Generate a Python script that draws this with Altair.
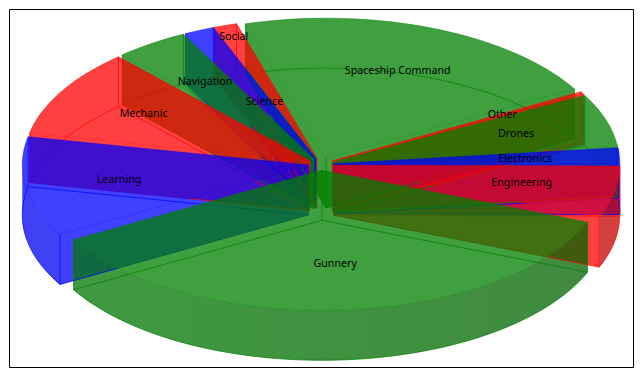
import math
import altair as alt
import pandas as pd

categories = ["Spaceship Command", "Other", "Drones", "Electronics", "Engineering", "Gunnery",
              "Learning", "Mechanic", "Navigation", "Science", "Social"]
shares = [21.3, 0.33, 6.1, 1.9, 5.95, 35.7, 11.5, 10.1, 4.14, 1.7, 1.3]
palette = ["green", "red", "green", "blue", "red", "green", "blue", "red", "green", "blue", "red"]

# layout
RGB = {"green": (0, 128, 0), "red": (255, 0, 0), "blue": (0, 0, 255)}
START = -16.3
EXPLODE = 0.045
DEPTH = 50 / 140
LABEL_R = {"Science": 0.44, "Social": 0.91, "Other": 0.68}
PX, PY = 286, 140
W, H = 624, 358
CX, CY = 312, 155
x_dom = [-CX / PX, (W - CX) / PX]
y_dom = [-(H - CY) / PY, CY / PY]

xs = alt.Scale(domain=x_dom, nice=False, zero=False)
ys = alt.Scale(domain=y_dom, nice=False, zero=False)
X = alt.X("x:Q", scale=xs, axis=None)
Y = alt.Y("y:Q", scale=ys, axis=None)


def hexc(rgb, k=1.0):
    return "#%02x%02x%02x" % tuple(round(c * k) for c in rgb)


pid = 0


def add(rows, pts, color):
    global pid
    for i, (x, y) in enumerate(pts):
        rows.append({"pid": pid, "i": i, "x": x, "y": y, "c": color})
    pid += 1


def solid(rows):
    return alt.Chart(pd.DataFrame(rows)).mark_line(
        filled=True, fillOpacity=0.75, strokeWidth=0, interpolate="linear"
    ).encode(x=X, y=Y, order="i:Q", detail="pid:N", fill=alt.Fill("c:N", scale=None))


def outline(rows, alpha):
    return alt.Chart(pd.DataFrame(rows)).mark_line(
        strokeWidth=1, strokeOpacity=alpha, interpolate="linear"
    ).encode(x=X, y=Y, order="i:Q", detail="pid:N", color=alt.Color("c:N", scale=None))


def shaded(pts, base):
    rows = [{"i": i, "x": x, "y": y} for i, (x, y) in enumerate(pts)]
    lo, hi = min(p[0] for p in pts), max(p[0] for p in pts)
    k = lambda v: 0.86 - 0.09 * v
    grad = alt.LinearGradient(
        gradient="linear", x1=0, x2=1, y1=0, y2=0,
        stops=[alt.GradientStop(color=hexc(base, k(lo)), offset=0),
               alt.GradientStop(color=hexc(base, k(hi)), offset=1)],
    )
    return alt.Chart(pd.DataFrame(rows)).mark_line(
        filled=True, fill=grad, fillOpacity=0.75, strokeWidth=0, interpolate="linear"
    ).encode(x=X, y=Y, order="i:Q")


total = sum(shares)
slices = []
a = START
for name, share, col in zip(categories, shares, palette):
    span = share / total * 360
    slices.append((name, col, a, a + span))
    a += span

wall_layers, tops, under, over, labels = [], [], [], [], []
# back-to-front
for name, col, a0, a1 in sorted(slices, key=lambda s: -math.cos(math.radians((s[2] + s[3]) / 2))):
    span = a1 - a0
    mid = math.radians((a0 + a1) / 2)
    ox, oy = EXPLODE * math.sin(mid), EXPLODE * math.cos(mid)
    base = RGB[col]

    def pt(t, r=1.0, z=0.0):
        t = math.radians(t)
        return (ox + r * math.sin(t), oy + r * math.cos(t) - z)

    n = max(1, math.ceil(span / 2))
    arc = [a0 + span * k / n for k in range(n + 1)]
    apex = pt(0, 0)
    apex_b = pt(0, 0, DEPTH)
    top_arc = [pt(t) for t in arc]
    bot_arc = [pt(t, 1, DEPTH) for t in arc]

    radial = []
    for t in (a0, a1):
        s = math.sin(math.radians(t))
        if (t == a1 and s > 0) or (t == a0 and s < 0):
            add(radial, [apex, pt(t), pt(t, 1, DEPTH), apex_b, apex], hexc(base))
    if radial:
        wall_layers.append(solid(radial))
    # curved outer wall, only the part that faces the viewer
    w0, w1 = max(a0, 90), min(a1, 270)
    if w1 > w0:
        m = max(2, math.ceil((w1 - w0) / 2))
        ks = [w0 + (w1 - w0) * j / m for j in range(m + 1)]
        poly = [pt(t) for t in ks] + [pt(t, 1, DEPTH) for t in reversed(ks)]
        wall_layers.append(shaded(poly + [poly[0]], base))

    add(tops, [apex] + top_arc + [apex], hexc(base))
    add(over, [apex] + top_arc + [apex], hexc(base))
    add(under, [apex_b] + bot_arc + [apex_b], hexc(base))
    add(under, [pt(a0), pt(a0, 1, DEPTH)], hexc(base))
    add(under, [pt(a1), pt(a1, 1, DEPTH)], hexc(base))
    add(under, [apex, apex_b], hexc(base))
    r = LABEL_R.get(name, 0.67)
    labels.append({"name": name, "x": ox + r * math.sin(mid), "y": oy + r * math.cos(mid)})

label_layer = alt.Chart(pd.DataFrame(labels)).mark_text(
    font="Noto Sans", fontSize=10.7, color="black", align="center", baseline="middle"
).encode(x=X, y=Y, text="name:N")

chart = (
    alt.layer(*wall_layers, outline(under, 0.75), solid(tops), outline(over, 0.45), label_layer)
    .properties(width=W, height=H, padding={"left": 1, "top": 1, "right": 1, "bottom": 1},
                background="white",
                autosize=alt.AutoSizeParams(type="none"))
    .configure_view(stroke="black", strokeWidth=1, fill="white")
)
chart.save("out.html", embed_options={"renderer": "svg", "actions": False})
